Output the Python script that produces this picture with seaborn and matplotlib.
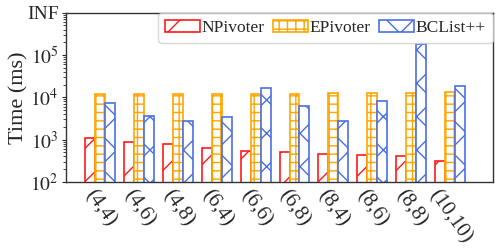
import numpy as np
import pandas as pd
import matplotlib
matplotlib.use("Agg")
import matplotlib.pyplot as plt
import seaborn as sns

categories = ["(4,4)", "(4,6)", "(4,8)", "(6,4)", "(6,6)", "(6,8)", "(8,4)", "(8,6)", "(8,8)", "(10,10)"]
npivoter = [1070, 900, 790, 630, 550, 520, 460, 430, 400, 315]
epivoter = [11800, 12000, 12000, 12000, 12000, 12000, 12900, 12900, 12900, 13200]
bclist = [7200, 3700, 2700, 3450, 17000, 6300, 2700, 8300, 185000, 19000]
series = ["NPivoter", "EPivoter", "BCList++"]
colors = ["#ff1a1a", "#ffa500", "#4a6fe3"]
hatches = ["/", "++", "x"]
yticks = [1e2, 1e3, 1e4, 1e5, 1e6]
yticklabels = [r"$10^{2}$", r"$10^{3}$", r"$10^{4}$", r"$10^{5}$", "INF"]

df = pd.DataFrame({
    "cat": categories * 3,
    "method": sum([[s] * len(categories) for s in series], []),
    "time": npivoter + epivoter + bclist,
})

sns.set_style("ticks")
plt.rcParams["font.family"] = ["Liberation Serif", "DejaVu Serif"]
plt.rcParams["mathtext.fontset"] = "stix"
plt.rcParams["hatch.linewidth"] = 1.0

fig = plt.figure(figsize=(4.99, 2.52), dpi=100)
ax = fig.add_axes([0.1315, 0.278, 0.8565, 0.6716])
ax.set_yscale("log")
sns.barplot(data=df, x="cat", y="time", hue="method", hue_order=series,
            order=categories, width=0.77, ax=ax, legend=False, errorbar=None,
            linewidth=1.2)

for cont, col, h in zip(ax.containers, colors, hatches):
    for p in cont.patches:
        p.set_facecolor("white")
        p.set_edgecolor(col)
        p.set_hatch(h)
        p.set_linewidth(1.2)

ax.set_ylim(1e2, 1e6)
ax.set_xlim(-0.88, 10.1)
ax.set_yticks(yticks)
ax.set_yticklabels(yticklabels, fontsize=14)
ax.tick_params(axis="y", which="major", length=3, pad=2)
ax.tick_params(axis="y", which="minor", length=2)
ax.tick_params(axis="x", length=0, pad=3)
ax.set_xticks(range(len(categories)))
ax.set_xticklabels(categories, rotation=-55, fontsize=15)
ax.set_xlabel("")
ax.set_ylabel("Time (ms)", fontsize=16)
ax.yaxis.set_label_coords(-0.086, 0.5)
for s in ax.spines.values():
    s.set_color("#333333")
    s.set_linewidth(1.0)

ax.legend(ax.containers, series, loc="upper right", ncol=3, fontsize=12.5,
          bbox_to_anchor=(1, 1), borderaxespad=0, handletextpad=0.1,
          columnspacing=0.5, handlelength=2.0, fancybox=True)

fig.savefig("out.png", dpi=100)
